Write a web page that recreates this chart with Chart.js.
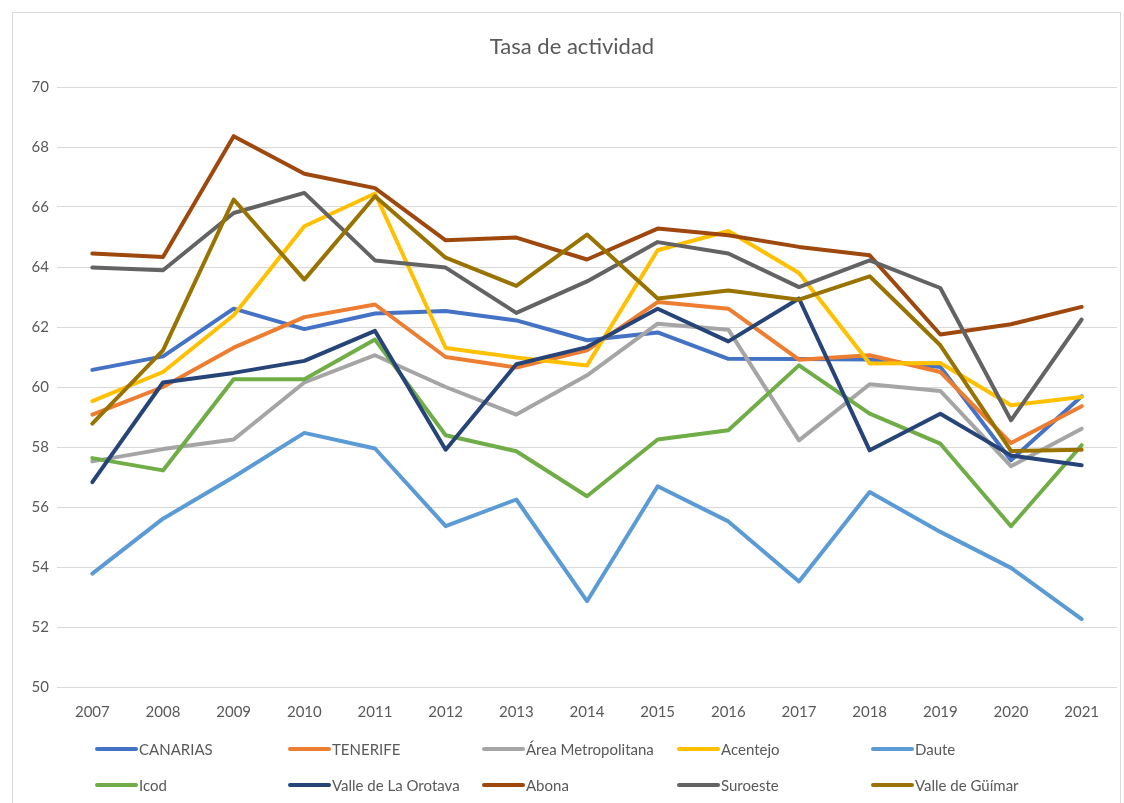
<!DOCTYPE html>
<html>
<head>
<meta charset="utf-8">
<script src="https://cdn.jsdelivr.net/npm/chart.js@4/dist/chart.umd.min.js"></script>
<style>
    body { margin: 0; background: #fff; }
    #frame { position: absolute; left: 12px; top: 12px; width: 1109px; height: 800px; border: 1px solid #d9d9d9; box-sizing: border-box; }
    #wrap { position: absolute; left: 0; top: 0; width: 1124px; height: 803px; }
</style>
</head>
<body>
<div id="frame"></div>
<div id="wrap"><canvas id="chart" width="1124" height="803"></canvas></div>
<script>
const years = ["2007", "2008", "2009", "2010", "2011", "2012", "2013", "2014", "2015", "2016", "2017", "2018", "2019", "2020", "2021"];

const canarias = [60.57, 61.02, 62.61, 61.93, 62.45, 62.53, 62.22, 61.56, 61.82, 60.94, 60.93, 60.92, 60.67, 57.56, 59.69];
const tenerife = [59.08, 60.0, 61.31, 62.33, 62.75, 61.0, 60.65, 61.22, 62.83, 62.61, 60.91, 61.06, 60.5, 58.13, 59.36];
const areaMetro = [57.52, 57.93, 58.25, 60.15, 61.06, 60.0, 59.08, 60.39, 62.11, 61.91, 58.22, 60.09, 59.87, 57.36, 58.61];
const acentejo = [59.53, 60.5, 62.39, 65.36, 66.45, 61.3, 60.98, 60.72, 64.56, 65.2, 63.8, 60.78, 60.8, 59.39, 59.67];
const daute = [53.78, 55.61, 57.0, 58.47, 57.95, 55.36, 56.25, 52.86, 56.69, 55.52, 53.52, 56.5, 55.17, 53.97, 52.26];
const icod = [57.63, 57.22, 60.26, 60.26, 61.58, 58.39, 57.86, 56.36, 58.25, 58.56, 60.72, 59.11, 58.11, 55.36, 58.06];
const orotava = [56.83, 60.15, 60.47, 60.87, 61.87, 57.91, 60.76, 61.33, 62.61, 61.52, 62.95, 57.89, 59.11, 57.72, 57.39];
const abona = [64.45, 64.33, 68.36, 67.11, 66.63, 64.89, 64.98, 64.25, 65.28, 65.06, 64.67, 64.39, 61.75, 62.09, 62.67];
const suroeste = [63.98, 63.89, 65.8, 66.47, 64.22, 63.98, 62.47, 63.52, 64.83, 64.45, 63.33, 64.22, 63.3, 58.89, 62.25];
const guimar = [58.78, 61.22, 66.25, 63.58, 66.36, 64.31, 63.37, 65.08, 62.95, 63.22, 62.91, 63.69, 61.39, 57.87, 57.91];

const seriesNames = ["CANARIAS", "TENERIFE", "Área Metropolitana", "Acentejo", "Daute",
    "Icod", "Valle de La Orotava", "Abona", "Suroeste", "Valle de Güímar"];
const seriesValues = [canarias, tenerife, areaMetro, acentejo, daute, icod, orotava, abona, suroeste, guimar];
const seriesColors = ["#4472C4", "#ED7D31", "#A5A5A5", "#FFC000", "#5B9BD5",
    "#70AD47", "#264478", "#9E480E", "#636363", "#997300"];

const textColor = '#595959';
const fontFamily = 'Lato, "Noto Sans", sans-serif';

// title and two-row legend drawn straight on the canvas
const decorPlugin = {
    id: 'decor',
    afterDraw(chart) {
        const ctx = chart.ctx;
        ctx.save();
        ctx.fillStyle = textColor;
        ctx.font = '22px ' + fontFamily;
        ctx.textAlign = 'center';
        ctx.textBaseline = 'middle';
        ctx.fillText('Tasa de actividad', 572, 47);

        const colX = [97, 290, 484, 679, 873];
        const rowY = [749, 785];
        ctx.font = '15px ' + fontFamily;
        ctx.textAlign = 'left';
        seriesNames.forEach(function (name, i) {
            const x = colX[i % 5];
            const y = rowY[Math.floor(i / 5)];
            ctx.strokeStyle = seriesColors[i];
            ctx.lineWidth = 4;
            ctx.lineCap = 'round';
            ctx.beginPath();
            ctx.moveTo(x, y);
            ctx.lineTo(x + 39, y);
            ctx.stroke();
            ctx.fillStyle = textColor;
            ctx.fillText(name, x + 42, y + 1);
        });
        ctx.restore();
    }
};

const datasets = seriesNames.map(function (name, i) {
    return {
        label: name,
        data: seriesValues[i],
        borderColor: seriesColors[i],
        backgroundColor: seriesColors[i],
        borderWidth: 4,
        pointRadius: 0,
        tension: 0,
        borderJoinStyle: 'round',
        borderCapStyle: 'round',
        order: seriesNames.length - 1 - i
    };
});

const config = {
    type: 'line',
    data: {
        labels: years,
        datasets: datasets
    },
    plugins: [decorPlugin],
    options: {
        responsive: false,
        animation: false,
        layout: {
            padding: { left: 0, top: 87, right: 7, bottom: 66 }
        },
        plugins: {
            legend: { display: false },
            title: { display: false },
            tooltip: { enabled: false }
        },
        scales: {
            x: {
                offset: true,
                grid: { display: false },
                border: { display: false },
                ticks: {
                    color: textColor,
                    font: { family: fontFamily, size: 15 },
                    padding: 8,
                    maxRotation: 0
                },
                afterFit: function (scale) { scale.height = 50; }
            },
            y: {
                min: 50,
                max: 70,
                grid: { color: '#D9D9D9', lineWidth: 1, drawTicks: false },
                border: { display: false },
                ticks: {
                    stepSize: 2,
                    color: textColor,
                    font: { family: fontFamily, size: 15 },
                    padding: 8
                },
                afterFit: function (scale) { scale.width = 57; }
            }
        }
    }
};

const chart = new Chart(document.getElementById('chart'), config);
</script>
</body>
</html>
